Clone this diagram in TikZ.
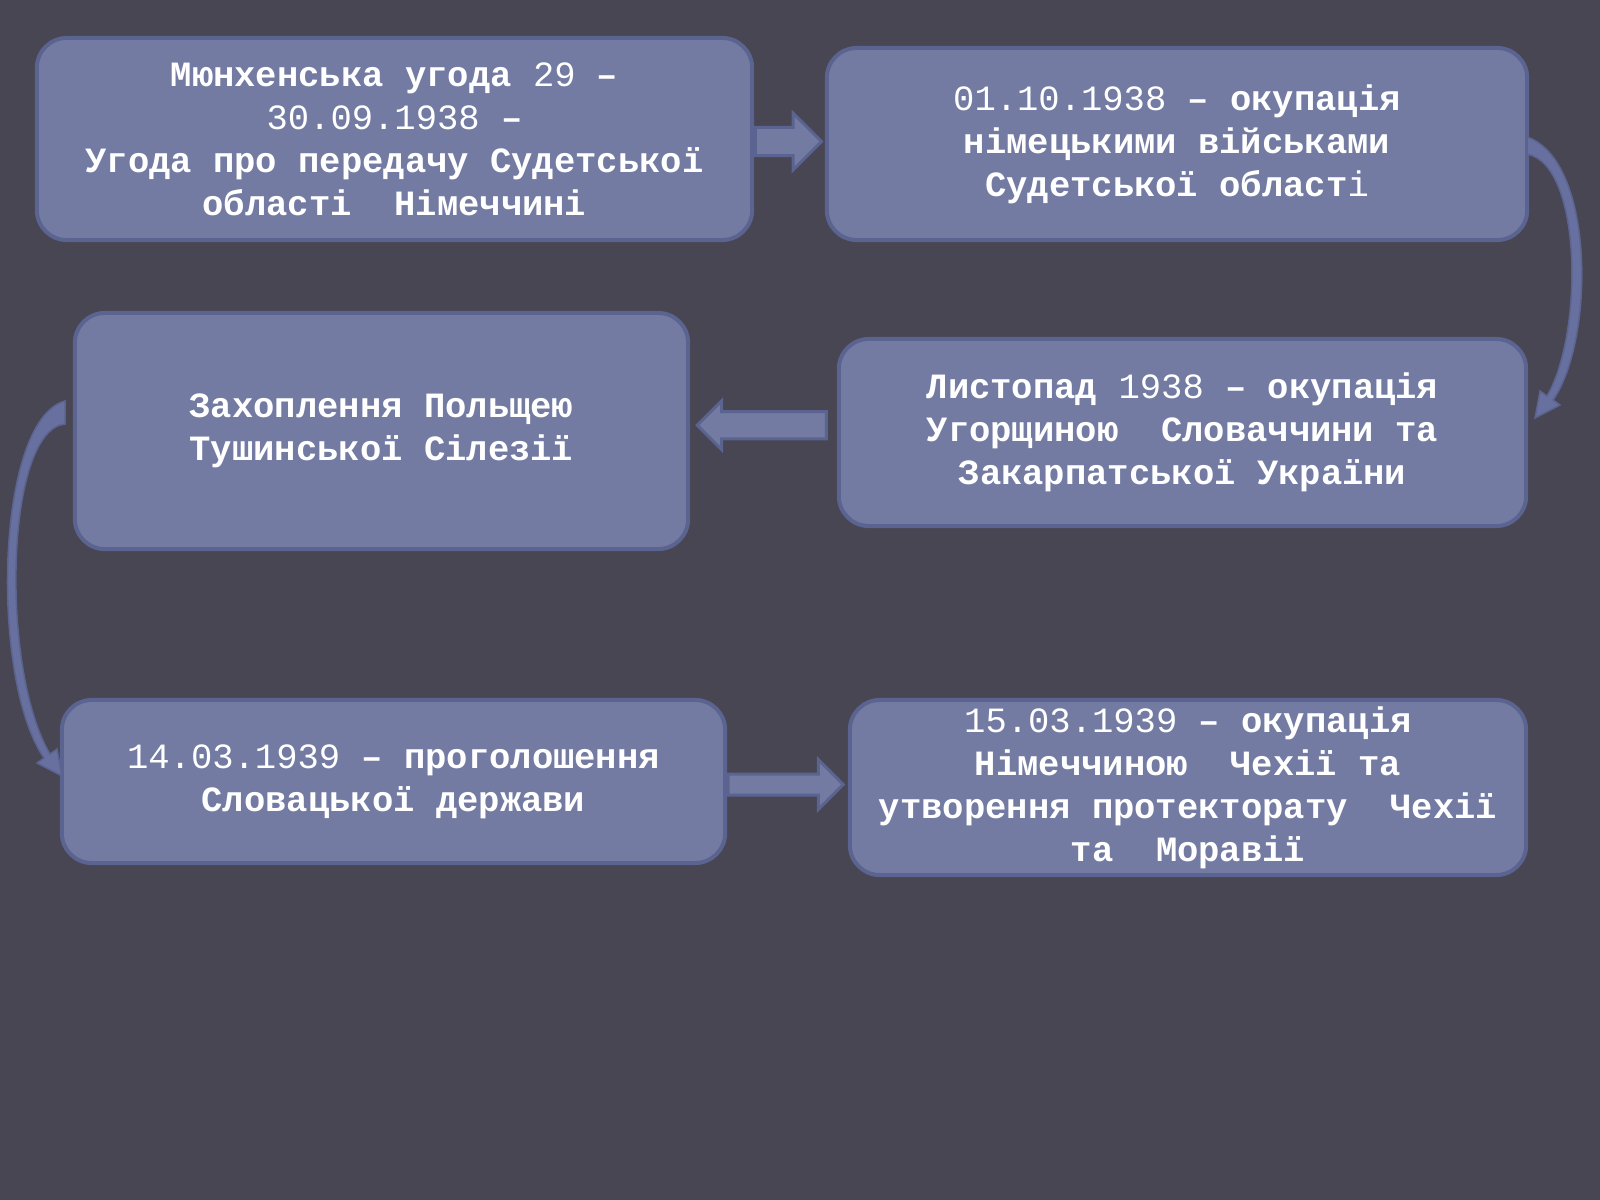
\documentclass[tikz,border=0pt]{standalone}
\usepackage{fontspec}
\setmonofont{Liberation Mono}
\usetikzlibrary{positioning,calc,shapes.arrows}

\definecolor{bgcol}{HTML}{474652}
\definecolor{boxfill}{HTML}{737BA3}
\definecolor{boxline}{HTML}{5B6390}
\definecolor{bandfill}{HTML}{6870A0}

\newcommand{\nm}[1]{\textmd{#1}}

\begin{document}
\begin{tikzpicture}[
    x=0.01cm,y=-0.01cm,
    box/.style={draw=boxline,fill=boxfill,line width=0.04cm,rounded corners=0.3cm,align=center,
        text=white,inner sep=0pt,font=\ttfamily\bfseries\fontsize{10.1pt}{12.2pt}\selectfont},
    barrow/.style={single arrow,draw=boxline,fill=boxfill,line width=0.03cm,inner xsep=0pt},
    band/.style={fill=bandfill,draw=boxline,line width=0.015cm},
]

% background
\useasboundingbox (0,0) rectangle (1600,1200);
\fill[bgcol] (0,0) rectangle (1600,1200);

% Boxes
\node[box,minimum width=7.15cm,minimum height=2.02cm] (munich) at (394.5,139)
    {Мюнхенська угода \nm{29} –\\\nm{30.09.1938} –\\Угода про передачу Судетської\\області~ Німеччині};
\node[box,minimum width=7.00cm,minimum height=1.92cm] (occupy) at (1177,144)
    {\nm{01.10.1938} – окупація\\німецькими військами\\Судетської област\nm{і}};
\node[box,minimum width=6.13cm,minimum height=2.36cm] (tesin) at (381.5,431)
    {Захоплення Польщею\\Тушинської Сілезії};
\node[box,minimum width=6.87cm,minimum height=1.87cm] (hungary) at (1182.5,432.5)
    {Листопад \nm{1938} – окупація\\Угорщиною~ Словаччини та\\Закарпатської України};
\node[box,minimum width=6.63cm,minimum height=1.63cm] (slovak) at (393.5,781.5)
    {\nm{14.03.1939} – проголошення\\Словацької держави};
\node[box,minimum width=6.76cm,minimum height=1.75cm] (protect) at (1188,787.5)
    {\nm{15.03.1939} – окупація\\Німеччиною~ Чехії та\\утворення протекторату~ Чехії\\та~ Моравії};

% Block arrows
\path (munich.east) -- node[barrow,inner ysep=0.125cm,single arrow head extend=0.145cm,
    minimum height=0.66cm,xshift=-0.08cm] (a1) {} (occupy.west);
\path (hungary.west) -- node[barrow,inner ysep=0.12cm,single arrow head extend=0.11cm,
    minimum height=1.29cm,shape border rotate=180,xshift=0.05cm,yshift=0.065cm] (a2) {} (tesin.east);
\path (slovak.east) -- node[barrow,inner ysep=0.09cm,single arrow head extend=0.145cm,
    minimum height=1.15cm,xshift=-0.07cm] (a3) {} (protect.west);

% Curved arrows
\draw[band] (1527,137) .. controls (1595,160) and (1595,340) .. (1553,400) -- (1560,405) -- (1535,418)
    -- (1540,391) -- (1547,396) .. controls (1583,335) and (1583,165) .. (1527,154) -- cycle;
\draw[band] (65,401) .. controls (-5,420) and (-10,680) .. (44,758) -- (37,763) -- (62,776)
    -- (57,749) -- (50,754) .. controls (0,670) and (5,430) .. (65,424) -- cycle;

\end{tikzpicture}
\end{document}
